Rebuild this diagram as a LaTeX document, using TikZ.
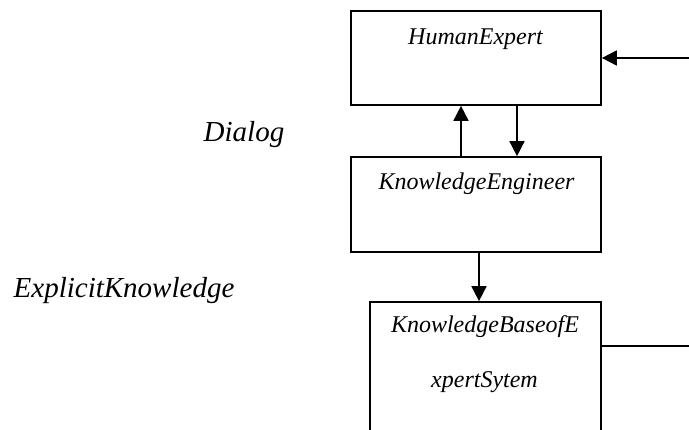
\documentclass[tikz,border=0pt]{standalone}
\usepackage{fontspec}
\setmainfont{Liberation Serif}
\usetikzlibrary{arrows.meta}
\tikzset{
  box/.style={draw, line width=1.7pt, rectangle, inner sep=0pt},
  boxtext/.style={anchor=base, inner sep=0pt, font=\fontsize{24}{28}\selectfont\itshape},
  sidetext/.style={anchor=base, inner sep=0pt, font=\fontsize{29}{34}\selectfont\itshape},
  conn/.style={line width=1.7pt},
  arr/.style={conn, -{Triangle[length=15pt,width=15pt]}}
}
\begin{document}
\begin{tikzpicture}[x=1pt,y=-1pt]
\useasboundingbox (0,0) rectangle (689,430);
\clip (0,0) rectangle (689,430);
% boxes
\node[box, minimum width=250pt, minimum height=94pt] (he) at (476,58) {};
\node[box, minimum width=250pt, minimum height=95pt] (ke) at (476,204.5) {};
\node[box, minimum width=231pt, minimum height=160pt] (kb) at (485.5,382) {};
% texts
\node[boxtext] (het) at (475.5,45) {HumanExpert};
\node[boxtext] (ket) at (476.5,190) {KnowledgeEngineer};
\node[boxtext] (kbt1) at (485,333) {KnowledgeBaseofE};
\node[boxtext] (kbt2) at (484.5,388) {xpertSytem};
\node[sidetext] (dialog) at (244,142) {Dialog};
\node[sidetext] (explicit) at (124,298) {ExplicitKnowledge};
% coordinates for connectors
\coordinate (inR) at (689,58);
\coordinate (upx) at (461,0);
\coordinate (dnx) at (517,0);
\coordinate (kex) at (479,0);
\coordinate (outR) at (689,346);
% connectors
\draw[arr] (inR) -- (he.east);
\draw[arr] (ke.north -| upx) -- (he.south -| upx);
\draw[arr] (he.south -| dnx) -- (ke.north -| dnx);
\draw[arr] (ke.south -| kex) -- (kb.north -| kex);
\draw[conn] (kb.east |- outR) -- (outR);
\end{tikzpicture}
\end{document}
